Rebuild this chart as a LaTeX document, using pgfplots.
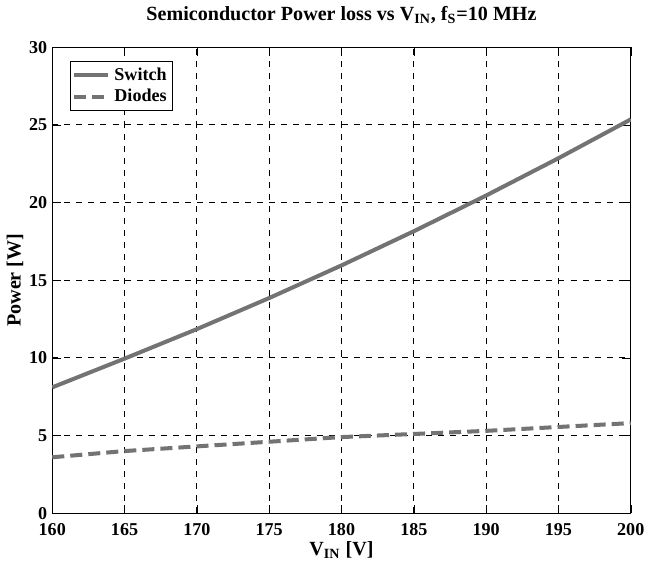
\documentclass[border=0pt]{standalone}
\usepackage{fontspec}
\setmainfont{Liberation Serif}
\usepackage{pgfplots}
\pgfplotsset{compat=1.18}
\begin{document}
\begin{tikzpicture}
\begin{axis}[
  scale only axis,
  width=288pt, height=232pt,
  xmin=160, xmax=200, ymin=0, ymax=30,
  xtick={160,165,...,200}, ytick={0,5,...,30},
  grid=major,
  major grid style={dashed, black, line width=0.5pt},
  axis line style={black, line width=0.6pt},
  tick style={black},
  tick align=inside,
  /pgf/number format/assume math mode=true,
  tick label style={font=\bfseries\small},
  xticklabel style={yshift=-1.5pt},
  yticklabel style={xshift=1pt},
  title={\bfseries Semiconductor Power loss vs V\textsubscript{IN}, f\textsubscript{S}=10 MHz},
  title style={yshift=2pt},
  xlabel={\bfseries V\textsubscript{IN} [V]},
  ylabel={\bfseries Power [W]},
  xlabel style={yshift=4pt},
  ylabel style={yshift=-4pt},
  legend pos=north west,
  legend style={font=\bfseries\small, draw=black, line width=0.5pt, inner sep=1pt, row sep=-1pt},
  legend cell align=left,
]
\addplot[color=black!55, line width=2pt] coordinates {
  (160,8.1) (165,9.95) (170,11.85) (175,13.85) (180,15.95)
  (185,18.15) (190,20.45) (195,22.85) (200,25.35)
};
\addlegendentry{Switch}
\addplot[color=black!55, line width=2pt, dash pattern=on 6pt off 3pt] coordinates {
  (160,3.6) (165,4.0) (170,4.3) (175,4.6) (180,4.9)
  (185,5.1) (190,5.3) (195,5.55) (200,5.8)
};
\addlegendentry{Diodes}
\end{axis}
\end{tikzpicture}
\end{document}
